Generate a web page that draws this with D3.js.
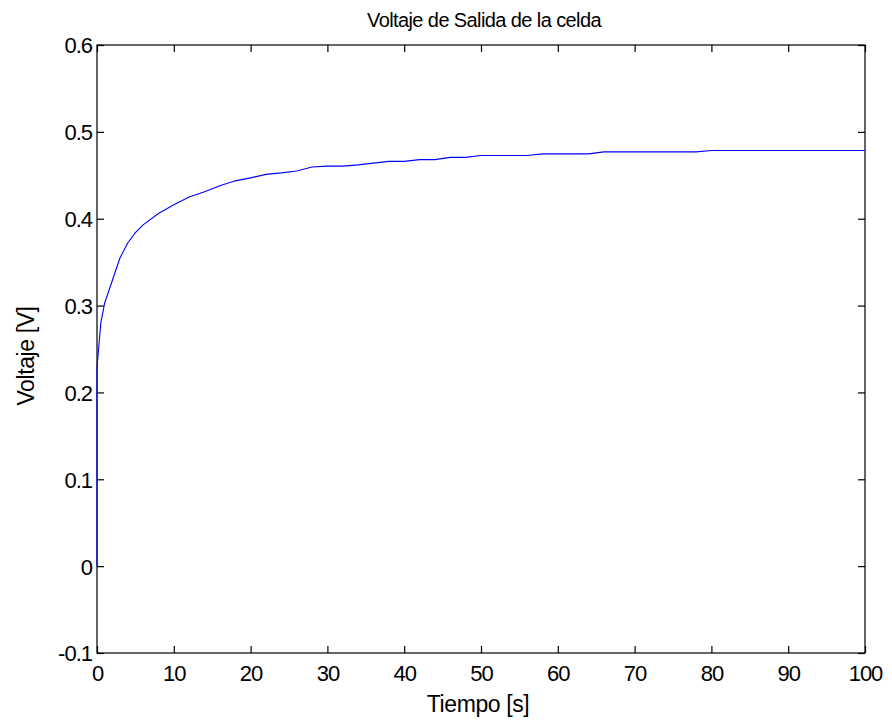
<!DOCTYPE html>
<html><head><meta charset="utf-8">
<script src="https://cdn.jsdelivr.net/npm/d3@7"></script>
<style>body{margin:0;background:#fff}svg{display:block}text{font-family:"Liberation Sans",Arial,sans-serif;fill:#000}</style>
</head><body><svg id="c" width="892" height="720"></svg>
<script>
const times = [0,0,0.5,1,3,4,5,6,8,10,12,14,16,18,20,22,24,26,28,30,32,34,36,38,40,42,44,46,48,50,52,54,56,58,60,62,64,66,68,70,72,74,76,78,80,82,84,86,88,90,92,94,96,98,100];
const volts = [0,0.229,0.28,0.303,0.355,0.372,0.384,0.393,0.406,0.416,0.425,0.431,0.438,0.4436,0.447,0.451,0.4528,0.455,0.4595,0.4605,0.4605,0.462,0.464,0.466,0.466,0.468,0.468,0.4706,0.4706,0.4728,0.4728,0.4728,0.4728,0.4747,0.4747,0.4747,0.4747,0.477,0.477,0.477,0.477,0.477,0.477,0.477,0.4786,0.4786,0.4786,0.4786,0.4786,0.4786,0.4786,0.4786,0.4786,0.4786,0.4786];
const xTicks = [0,10,20,30,40,50,60,70,80,90,100];
const yTicks = [-0.1,0,0.1,0.2,0.3,0.4,0.5,0.6];
const title = "Voltaje de Salida de la celda";
const xLabel = "Tiempo [s]";
const yLabel = "Voltaje [V]";

const svg = d3.select("#c");
const L=97, R=865, T=45, B=653;
const x = d3.scaleLinear().domain([0,100]).range([L,R]);
const y = d3.scaleLinear().domain([-0.1,0.6]).range([B,T]);
const tl = 7;

svg.append("rect").attr("x",L).attr("y",T).attr("width",R-L).attr("height",B-T).attr("fill","none").attr("stroke","#000").attr("stroke-width",1.2);

const fmt = d => String(+d.toFixed(1));
const gb = svg.append("g").attr("transform",`translate(0,${B})`).call(d3.axisBottom(x).tickValues(xTicks).tickSize(-tl).tickPadding(12).tickFormat(d=>String(d)));
const gt = svg.append("g").attr("transform",`translate(0,${T})`).call(d3.axisTop(x).tickValues(xTicks).tickSize(-tl).tickFormat(""));
const gl = svg.append("g").attr("transform",`translate(${L},0)`).call(d3.axisLeft(y).tickValues(yTicks).tickSize(-tl).tickPadding(5).tickFormat(d=>fmt(d)));
const gr = svg.append("g").attr("transform",`translate(${R},0)`).call(d3.axisRight(y).tickValues(yTicks).tickSize(-tl).tickFormat(""));
[gb,gt,gl,gr].forEach(g=>{g.select(".domain").remove();g.selectAll(".tick line").attr("stroke","#000").attr("stroke-width",1.2);
  g.selectAll(".tick text").style("font-family","'Liberation Sans',Arial,sans-serif").style("font-size","22px").attr("fill","#000").style("letter-spacing","-1px");});
gb.selectAll(".tick text").attr("dy","0.71em").attr("y",12);
gl.selectAll(".tick text").attr("dy","0.36em");

const line = d3.line().x((d,i)=>x(times[i])).y(d=>y(d));
svg.append("path").datum(volts).attr("d",line).attr("fill","none").attr("stroke","#0000ff").attr("stroke-width",1.1);

svg.append("text").attr("x",(L+R)/2+3).attr("y",27).attr("text-anchor","middle").style("font-size","20px").style("letter-spacing","-0.6px").text(title);
svg.append("text").attr("x",(L+R)/2-3).attr("y",712).attr("text-anchor","middle").style("font-size","23px").style("letter-spacing","-0.4px").text(xLabel);
svg.append("text").attr("transform",`translate(34,356) rotate(-90)`).attr("text-anchor","middle").style("font-size","23px").style("letter-spacing","-0.4px").text(yLabel);
</script></body></html>
